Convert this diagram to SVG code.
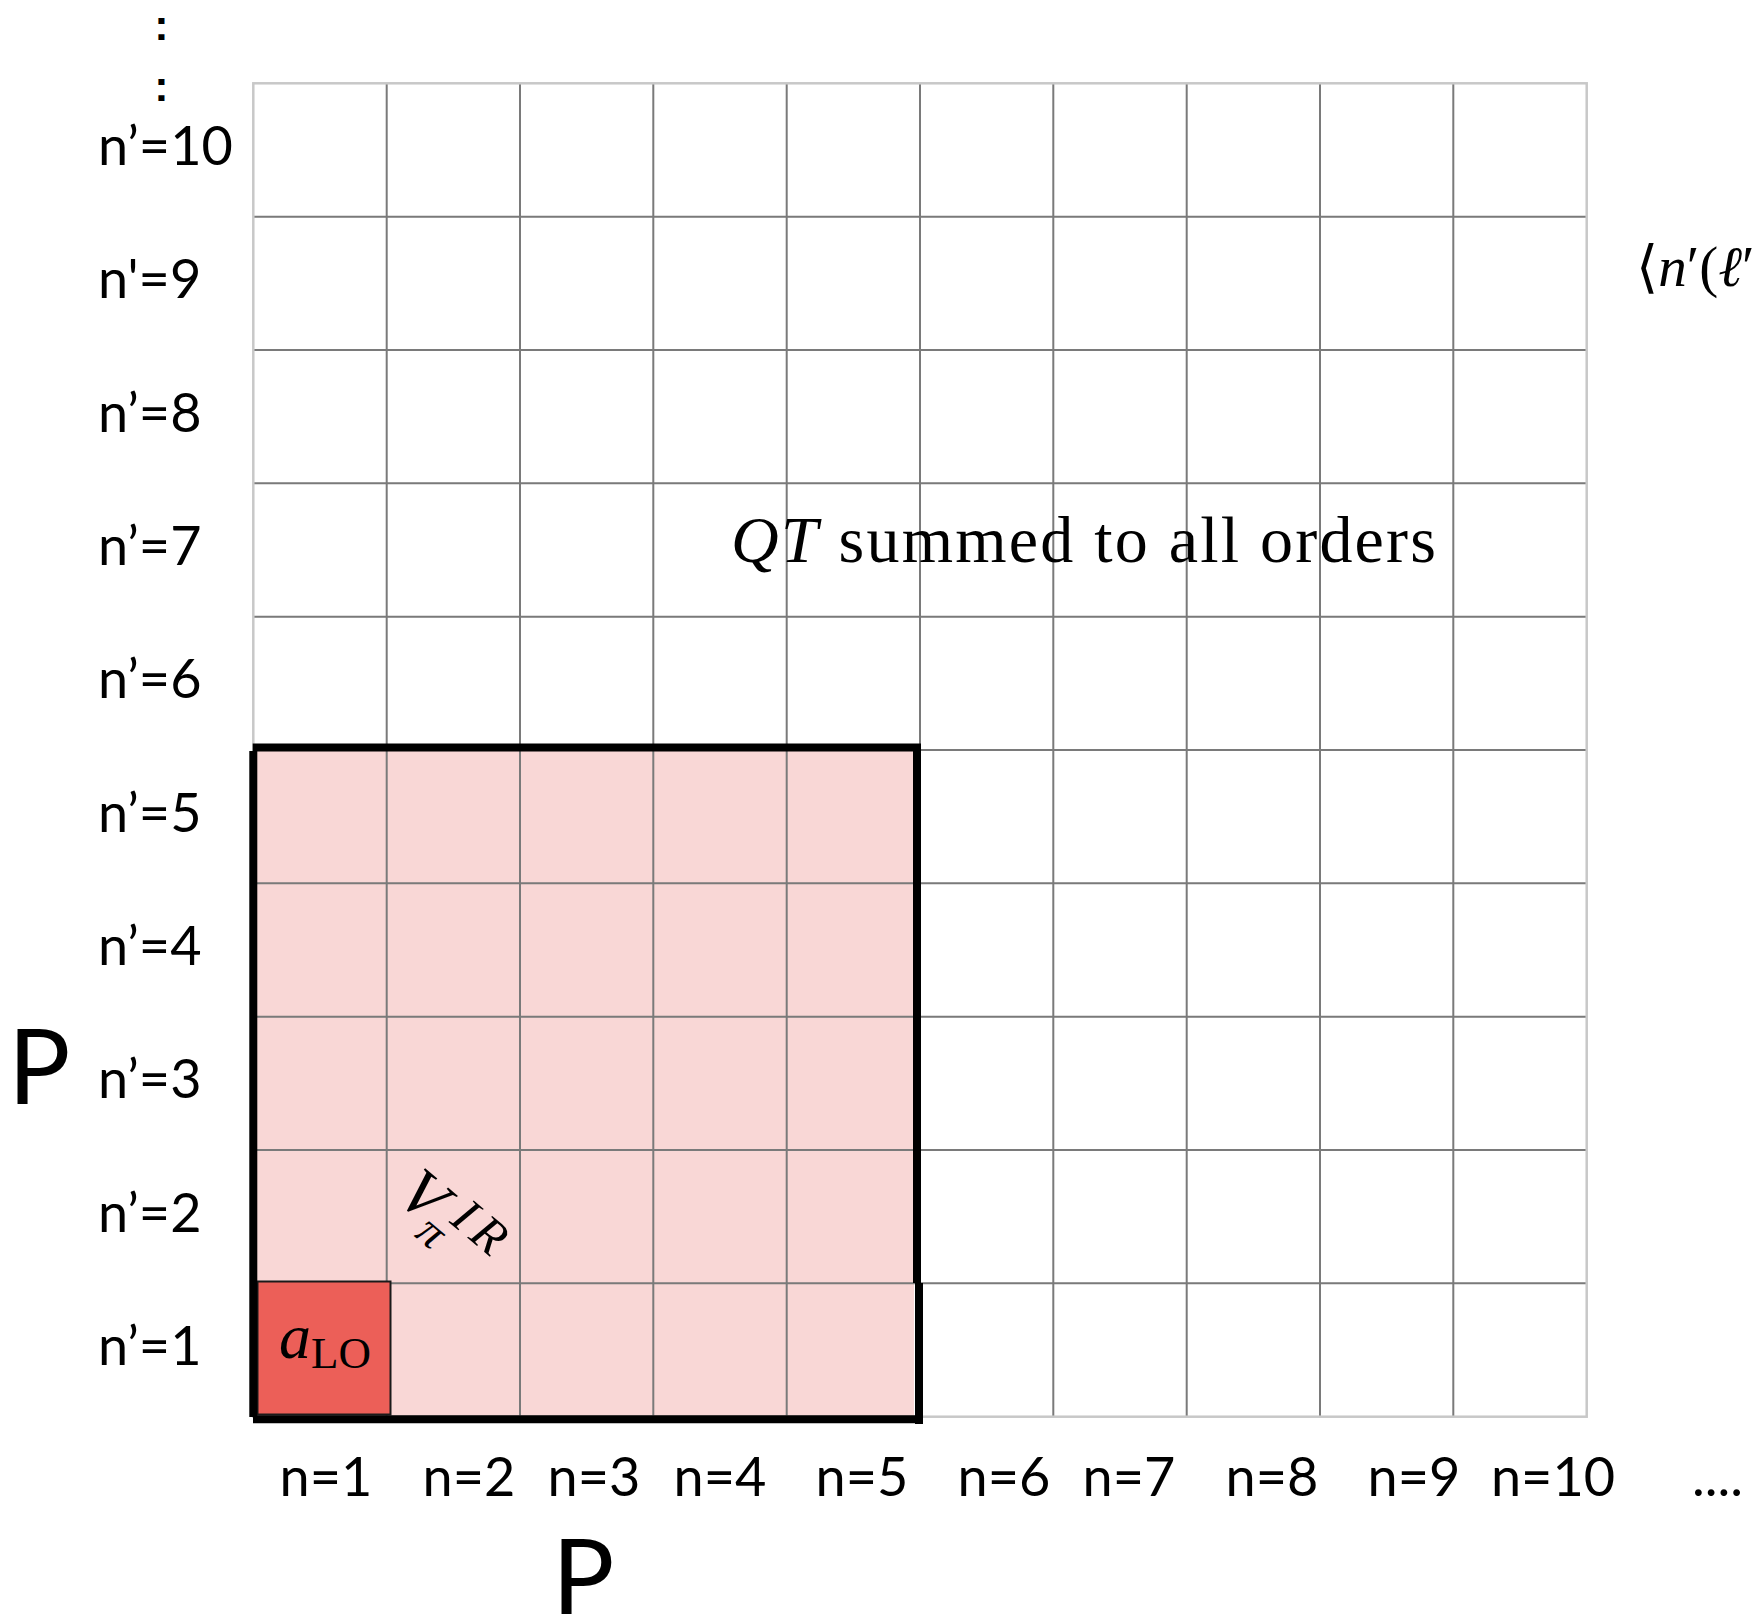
<svg xmlns="http://www.w3.org/2000/svg" width="1760" height="1623" viewBox="0 0 1760 1623">
<style>
.lbl{font-family:Lato,"Noto Sans",sans-serif;font-size:54px;fill:#000}
.big{font-family:Lato,"Noto Sans",sans-serif;font-size:104px;fill:#000}
.math{font-family:"Liberation Serif","DejaVu Serif",serif;fill:#000}
.it{font-style:italic}
.g{stroke:#7a7a7a;stroke-width:2;fill:none}
.thick{stroke:#000;stroke-width:8;fill:none}
.dots{font-family:"Liberation Sans",sans-serif;font-weight:bold;font-size:43px;text-anchor:middle}
</style>
<rect width="1760" height="1623" fill="#fff"/>
<g id="pink-region">
<rect x="257" y="751" width="657" height="665" fill="#f9d7d6"/>
</g>
<g id="grid">
<path class="g" d="M386.7,83.3V1416.7M520,83.3V1416.7M653.3,83.3V1416.7M786.7,83.3V1416.7M920,83.3V1416.7M1053.3,83.3V1416.7M1186.7,83.3V1416.7M1320,83.3V1416.7M1453.3,83.3V1416.7"/>
<path class="g" d="M253.3,216.7H1586.7M253.3,350H1586.7M253.3,483.3H1586.7M253.3,616.7H1586.7M253.3,750H1586.7M253.3,883.3H1586.7M253.3,1016.7H1586.7M253.3,1150H1586.7M253.3,1283.3H1586.7"/>
<rect x="253.3" y="83.3" width="1333.4" height="1333.4" fill="none" stroke="#c8c8c8" stroke-width="2.5"/>
</g>
<g id="a-lo">
<rect x="257.5" y="1281.5" width="133" height="133" fill="#ec5f58" stroke="#1a1a1a" stroke-width="2"/>
<text class="math" x="279" y="1358" font-size="64"><tspan class="it">a</tspan><tspan font-size="45" y="1368">LO</tspan></text>
</g>
<g id="border">
<path class="thick" d="M253.3,751V1417M252.7,747.5H921M917,747V1283M919,1283V1424M253,1419.3H921"/>
</g>
<g id="v-ir" transform="translate(394.6,1199) rotate(40)">
<text class="math it" x="0" y="0" font-size="66">V</text>
<text class="math it" x="56" y="-17" font-size="50" letter-spacing="8">IR</text>
<text class="math it" x="38" y="16" font-size="46">π</text>
</g>
<g id="qt-label">
<text class="math" x="731" y="562" font-size="66" textLength="705" lengthAdjust="spacing"><tspan class="it">QT</tspan> summed to all orders</text>
</g>
<g id="bra-label">
<text class="math" x="1636" y="286" font-size="57">⟨<tspan class="it">n</tspan>′(<tspan class="it">ℓ</tspan>′</text>
</g>
<g id="row-labels">
<text class="lbl" x="98" y="165">n’=10</text>
<text class="lbl" x="98" y="298">n'=9</text>
<text class="lbl" x="98" y="432">n’=8</text>
<text class="lbl" x="98" y="565">n’=7</text>
<text class="lbl" x="98" y="698">n’=6</text>
<text class="lbl" x="98" y="832">n’=5</text>
<text class="lbl" x="98" y="965">n’=4</text>
<text class="lbl" x="98" y="1098">n’=3</text>
<text class="lbl" x="98" y="1232">n’=2</text>
<text class="lbl" x="98" y="1365">n’=1</text>
</g>
<g id="col-labels" text-anchor="middle">
<text class="lbl" x="326" y="1496">n=1</text>
<text class="lbl" x="469" y="1496">n=2</text>
<text class="lbl" x="594" y="1496">n=3</text>
<text class="lbl" x="720" y="1496">n=4</text>
<text class="lbl" x="862" y="1496">n=5</text>
<text class="lbl" x="1004" y="1496">n=6</text>
<text class="lbl" x="1129" y="1496">n=7</text>
<text class="lbl" x="1272" y="1496">n=8</text>
<text class="lbl" x="1414" y="1496">n=9</text>
<text class="lbl" x="1553" y="1496">n=10</text>
</g>
<g id="ellipsis">
<text class="lbl" x="1692" y="1496">....</text>
<text class="dots" x="161.3" y="40">:</text>
<text class="dots" x="161.3" y="101">:</text>
</g>
<g id="p-labels">
<text class="big" x="8" y="1104">P</text>
<text class="big" x="552" y="1614">P</text>
</g>
</svg>
